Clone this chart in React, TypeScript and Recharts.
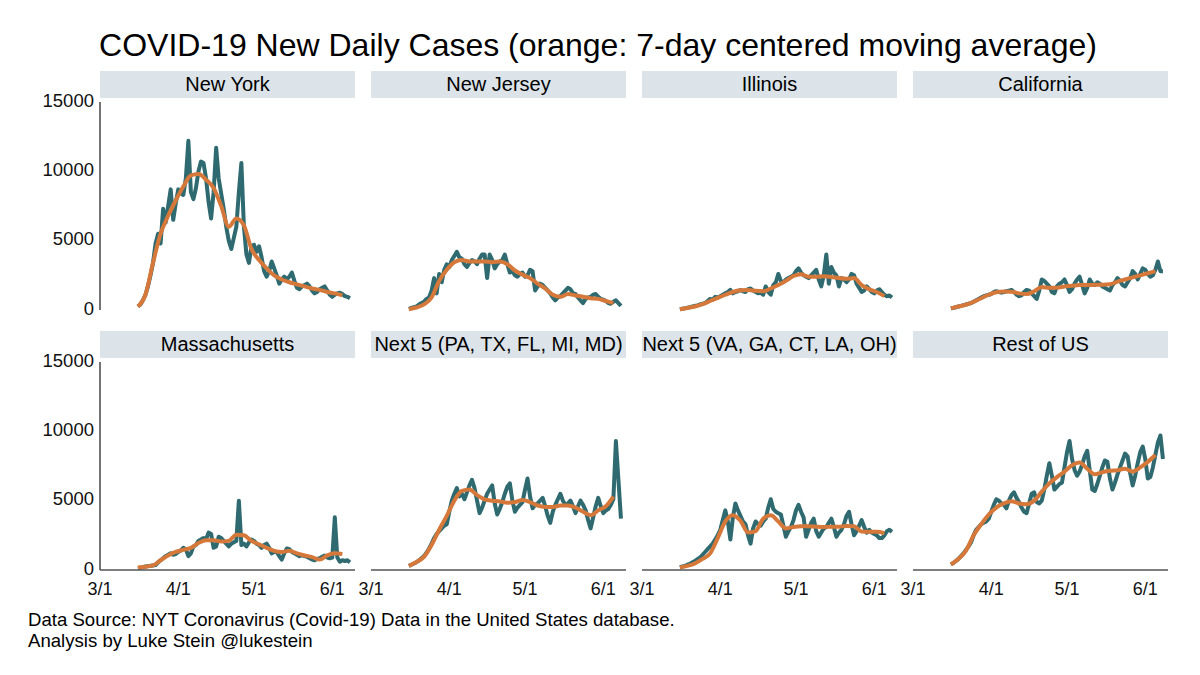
import React from 'react';
import { LineChart, Line, XAxis, YAxis } from 'recharts';

// day index counts from 3/1 (day 0); daily values start on 3/16 (day 15)
const firstDay = 15;
const avgStep = 3; // moving average read every third day

const panelNames = [
  'New York',
  'New Jersey',
  'Illinois',
  'California',
  'Massachusetts',
  'Next 5 (PA, TX, FL, MI, MD)',
  'Next 5 (VA, GA, CT, LA, OH)',
  'Rest of US',
];

const xTicks = [0, 31, 61, 92];
const xTickLabels = ['3/1', '4/1', '5/1', '6/1'];
const yTicks = [0, 5000, 10000, 15000];

// daily new cases, 3/16 .. 6/8
const nyDaily = [
  250, 400, 700, 1100, 1700, 2500, 3400, 4800, 5500, 4800,
  7300, 6300, 7500, 8700, 6500, 7700, 8700, 8400, 8300, 9500,
  12200, 8500, 8000, 8800, 10000, 10700, 10600, 9500, 7800, 6600,
  8500, 11700, 9500, 8400, 7300, 6000, 5000, 4400, 5200, 6000,
  8500, 10600, 6000, 4000, 3400, 4600, 4700, 4200, 4600, 3800,
  2800, 2400, 2800, 3500, 3000, 2500, 1900, 2200, 2400, 2200,
  2400, 2700, 2100, 1600, 1500, 1700, 1800, 1900, 1700, 1400,
  1200, 1300, 1500, 1600, 1700, 1400, 1100, 950, 1100, 1200,
  1250, 1150, 1000, 950, 850,
];
const njDaily = [
  80, 150, 200, 250, 400, 500, 600, 800, 900, 1400,
  2300, 1200, 2600, 2000, 2900, 3300, 3100, 3600, 3900, 4200,
  3800, 3700, 3300, 3100, 3400, 3600, 3500, 3300, 3700, 4000,
  4000, 2300, 4000, 3600, 3000, 3300, 3500, 3600, 4000, 3300,
  2700, 2800, 2500, 2400, 2600, 2700, 2400, 2500, 2900, 2800,
  1400, 1700, 1900, 1800, 1600, 1400, 1200, 900, 700, 900,
  1000, 1200, 1400, 1600, 1500, 1200, 1150, 900, 700, 500,
  800, 900, 950, 1100, 1150, 950, 800, 750, 650, 500,
  450, 600, 700, 500, 300,
];
const ilDaily = [
  60, 90, 120, 170, 200, 250, 300, 330, 400, 450,
  500, 650, 800, 750, 950, 900, 1000, 1100, 1200, 1300,
  1450, 1200, 1300, 1350, 1450, 1350, 1300, 1500, 1550, 1400,
  1300, 1200, 1250, 1100, 1700, 1300, 1100, 1800, 2000, 2600,
  2100, 2000, 2200, 2300, 2400, 2500, 2800, 3000, 2700, 2500,
  2400, 2300, 2500, 2700, 2900, 2200, 1700, 2500, 4000, 1900,
  3100, 2700, 2500, 1700, 2300, 2200, 2000, 2200, 2600, 2500,
  1900, 1600, 1300, 1400, 1700, 1500, 1300, 1200, 1400, 1500,
  1300, 1100, 1000, 1050, 900,
];
const caDaily = [
  120, 150, 200, 250, 300, 350, 400, 450, 500, 600,
  700, 800, 900, 1000, 1050, 1100, 1150, 1300, 1350, 1300,
  1250, 1300, 1350, 1400, 1450, 1300, 1100, 1000, 1050, 1300,
  1450, 1400, 1200, 1000, 800, 1400, 2200, 2100, 1900, 1700,
  1300, 1200, 1700, 1900, 2000, 2200, 1800, 1300, 1500, 1900,
  2200, 2400, 1800, 1200, 1600, 2200, 1900, 1800, 2000, 1900,
  1700, 1600, 1500, 1400, 1800, 2000, 2300, 2100, 1800, 1700,
  2000, 2300, 2800, 2600, 2200, 2600, 3000, 2900, 2600, 2400,
  2500, 2900, 3500, 2800, 2800,
];
const maDaily = [
  150, 170, 200, 250, 280, 300, 330, 360, 550, 700,
  850, 1000, 1100, 1200, 1100, 1150, 1300, 1400, 1600, 1500,
  1000, 1200, 1700, 1800, 2100, 2200, 2300, 2200, 2700, 2600,
  1600, 1700, 2400, 2300, 2100, 1900, 1700, 1900, 2000, 2100,
  5000, 1800, 1900, 1700, 2000, 2200, 2100, 1900, 1800, 1600,
  1800, 1900, 1600, 1200, 1300, 1300, 1000, 750, 1200, 1550,
  1500, 1300, 1200, 1100, 1000, 1050, 1000, 950, 850, 750,
  700, 800, 850, 950, 1050, 900, 850, 900, 3800, 900,
  600, 700, 650, 700, 550,
];
const next5aDaily = [
  300, 380, 470, 560, 700, 850, 1000, 1250, 1550, 1900,
  2300, 2600, 2800, 3000, 3200, 3300, 4200, 5000, 5500, 5900,
  5300, 5500, 5100, 5600, 6100, 6500, 5900, 5000, 4100, 4500,
  5000, 5500, 5800, 6100, 4800, 4000, 4400, 4900, 5500, 6000,
  6250, 5000, 4200, 4500, 4700, 4900, 5800, 6600, 5300, 4450,
  4700, 4800, 5000, 5200, 4600, 3900, 3400, 4200, 4700, 5100,
  5500, 5000, 4700, 4800, 5000, 4600, 4100, 4600, 5000, 4700,
  4300, 3600, 3000, 3800, 4600, 5200, 4600, 4100, 4300, 4400,
  4700, 5100, 9300, 6500, 3700,
];
const next5bDaily = [
  200, 250, 300, 380, 450, 550, 650, 780, 900, 1100,
  1300, 1500, 1700, 1900, 2200, 2500, 2900, 3600, 4300, 3500,
  2200, 3800, 4800, 4300, 3900, 3500, 3300, 2500, 1900, 3000,
  3500, 3300, 3200, 3500, 3700, 4500, 5100, 4400, 4200, 4100,
  4000, 3200, 2400, 2800, 3100, 3600, 4300, 4700, 4200, 3800,
  2400, 2900, 3400, 3700, 2800, 2400, 2700, 3000, 3100, 3400,
  3700, 3100, 2400, 2700, 2900, 3300, 3900, 4200, 3300, 2500,
  2800, 3200, 3600, 3100, 2700, 2900, 2700, 2600, 2500, 2300,
  2300, 2500, 2800, 2900, 2750,
];
const restDaily = [
  400, 500, 650, 800, 1000, 1200, 1450, 1700, 2000, 2500,
  2900, 3100, 3300, 3400, 3500, 3700, 4200, 4700, 5100, 5000,
  4800, 4700, 4450, 5000, 5400, 5600, 5200, 4900, 4500, 4200,
  4100, 4800, 5500, 5600, 4900, 4800, 5000, 5800, 6800, 7700,
  6800, 5800, 6000, 6200, 6300, 7400, 8500, 9300, 8000, 7200,
  6800, 7100, 7600, 8200, 8600, 7200, 5800, 5700, 6200, 6800,
  7400, 7900, 7800, 6600, 5800, 6300, 6900, 7400, 7900, 8400,
  8200, 7000, 6100, 6800, 7700, 8500, 8900, 8000, 6600, 6700,
  7400, 8300, 9200, 9700, 8000,
];

// 7-day centered moving average, every third day from 3/16 to 6/5
const nyAvg = [250, 1100, 3400, 5500, 6800, 7900, 8900, 9700, 9800, 9400, 8800, 7500, 6000, 6600, 6100, 4400, 3600, 3000, 2500, 2200, 2000, 1850, 1700, 1550, 1450, 1300, 1200, 1050];
const njAvg = [60, 180, 400, 900, 2100, 2900, 3450, 3600, 3500, 3500, 3500, 3450, 3500, 3300, 2850, 2550, 2300, 1900, 1550, 1100, 950, 1150, 1050, 950, 850, 800, 650, 500];
const ilAvg = [60, 150, 250, 420, 650, 880, 1100, 1300, 1420, 1450, 1380, 1350, 1550, 1800, 2100, 2450, 2580, 2400, 2400, 2430, 2380, 2300, 2250, 2300, 1800, 1500, 1300, 1000];
const caAvg = [120, 250, 380, 580, 850, 1100, 1280, 1330, 1320, 1200, 1150, 1350, 1650, 1600, 1600, 1700, 1750, 1800, 1800, 1820, 1820, 1850, 2050, 2200, 2350, 2500, 2650, 2800];
const maAvg = [180, 240, 330, 700, 1050, 1300, 1450, 1600, 1950, 2150, 2150, 2050, 2100, 2550, 2500, 2100, 1850, 1600, 1380, 1300, 1380, 1200, 1050, 930, 750, 1050, 1200, 1150];
const next5aAvg = [300, 580, 950, 1800, 2900, 3900, 5000, 5700, 5800, 5400, 5100, 5000, 4950, 4850, 4900, 5050, 4900, 4650, 4550, 4550, 4650, 4650, 4500, 4200, 3950, 4300, 4600, 5300];
const next5bAvg = [190, 300, 480, 800, 1200, 2300, 3500, 3950, 3550, 2700, 2800, 3700, 3950, 3500, 3000, 3100, 3150, 3150, 3120, 3100, 3120, 3120, 3170, 3150, 2770, 2750, 2750, 2650];
const restAvg = [400, 800, 1400, 2500, 3300, 4000, 4500, 4800, 4950, 4800, 4750, 5000, 5650, 6250, 6700, 7100, 7550, 7750, 7300, 6900, 7050, 7150, 7200, 7300, 7100, 7400, 7800, 8300];

const dailySeries = [nyDaily, njDaily, ilDaily, caDaily, maDaily, next5aDaily, next5bDaily, restDaily];
const avgSeries = [nyAvg, njAvg, ilAvg, caAvg, maAvg, next5aAvg, next5bAvg, restAvg];

const TEAL = '#2e6a70';
const ORANGE = '#d6783a';
const STRIP = '#dce4e9';
const FONT = '"Liberation Sans", Arial, Helvetica, sans-serif';

const PLOT_W = 255;
const PLOT_H = 208;

function Panel({ index }: { index: number }) {
  const col = index % 4;
  const row = Math.floor(index / 4);
  const daily = dailySeries[index];
  const avg = avgSeries[index];

  const data = daily.map((v, i) => {
    const k = i / avgStep;
    return {
      day: firstDay + i,
      daily: v,
      avg: Number.isInteger(k) && k < avg.length ? avg[k] : null,
    };
  });

  const plotLeft = 100 + col * 271;
  const plotTop = row === 0 ? 102 : 362;
  const isBottom = row === 1;
  const ml = col === 0 ? 70 : 18;
  const mr = 18;
  const mt = 14;
  const mb = isBottom ? 38 : 10;

  return (
    <>
      <div
        style={{
          position: 'absolute',
          left: plotLeft,
          top: plotTop - 31,
          width: PLOT_W,
          height: 27,
          background: STRIP,
          fontSize: 20,
          lineHeight: '27px',
          textAlign: 'center',
          color: '#000',
          whiteSpace: 'nowrap',
        }}
      >
        {panelNames[index]}
      </div>
      <div style={{ position: 'absolute', left: plotLeft - ml, top: plotTop - mt }}>
        <LineChart
          width={ml + PLOT_W + mr}
          height={mt + PLOT_H + mb}
          data={data}
          margin={{ top: mt, right: mr, bottom: isBottom ? 4 : mb, left: col === 0 ? 0 : ml }}
        >
          <XAxis
            type="number"
            dataKey="day"
            domain={[0, 101]}
            ticks={xTicks}
            interval={0}
            allowDataOverflow
            tickFormatter={(d: number) => xTickLabels[xTicks.indexOf(d)]}
            hide={!isBottom}
            height={34}
            axisLine={{ stroke: '#555', strokeWidth: 1.5 }}
            tickLine={false}
            tickSize={10}
            tick={{ fontSize: 18, fill: '#111', fontFamily: FONT }}
          />
          {col === 0 ? (
            <YAxis
              domain={[0, 15000]}
              ticks={yTicks}
              interval={0}
              width={70}
              axisLine={{ stroke: '#444', strokeWidth: 1.5 }}
              tickLine={false}
              tickSize={4}
              tick={{ fontSize: 18.5, fill: '#111', fontFamily: FONT, dy: -2 }}
            />
          ) : (
            <YAxis hide domain={[0, 15000]} />
          )}
          <Line
            type="linear"
            dataKey="daily"
            stroke={TEAL}
            strokeWidth={4}
            strokeLinejoin="round"
            dot={false}
            activeDot={false}
            isAnimationActive={false}
          />
          <Line
            type="monotone"
            dataKey="avg"
            stroke={ORANGE}
            strokeWidth={4}
            strokeLinejoin="round"
            dot={false}
            activeDot={false}
            connectNulls
            isAnimationActive={false}
          />
        </LineChart>
      </div>
    </>
  );
}

export default function App() {
  return (
    <div
      style={{
        position: 'absolute',
        left: 0,
        top: 0,
        width: 1200,
        height: 675,
        background: '#fff',
        fontFamily: FONT,
        overflow: 'hidden',
      }}
    >
      <div
        style={{
          position: 'absolute',
          left: 0,
          top: 25,
          width: 1196,
          textAlign: 'center',
          fontSize: 32,
          lineHeight: '40px',
          color: '#000',
        }}
      >
        COVID-19 New Daily Cases (orange: 7-day centered moving average)
      </div>

      {panelNames.map((_, i) => (
        <Panel key={i} index={i} />
      ))}

      <div
        style={{
          position: 'absolute',
          left: 28,
          top: 609,
          fontSize: 18.6,
          lineHeight: '21px',
          color: '#000',
        }}
      >
        <div>Data Source: NYT Coronavirus (Covid-19) Data in the United States database.</div>
        <div>Analysis by Luke Stein @lukestein</div>
      </div>
    </div>
  );
}
